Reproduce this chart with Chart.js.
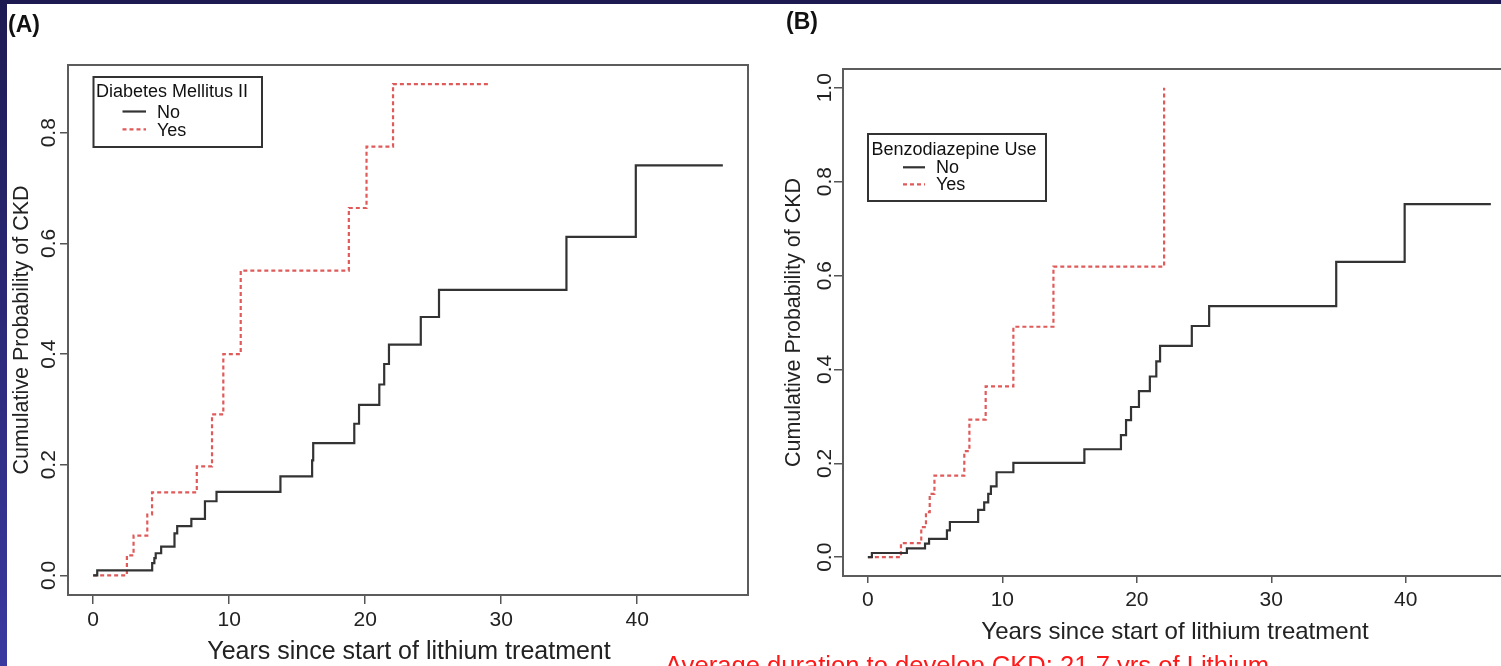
<!DOCTYPE html>
<html>
<head>
<meta charset="utf-8">
<script src="https://cdn.jsdelivr.net/npm/chart.js@4.4.1/dist/chart.umd.min.js"></script>
<style>
  html, body { margin: 0; padding: 0; width: 1501px; height: 666px; overflow: hidden; background: #fff; }
  #chartA { position: absolute; left: 0; top: 0; }
  #chartB { position: absolute; left: 755px; top: 0; }
  #slideTop { position: absolute; left: 0; top: 0; width: 1501px; height: 4px; background: #1d1a52; z-index: 2; }
  #slideLeft { position: absolute; left: 0; top: 0; width: 7px; height: 666px; background: linear-gradient(#1d1a52, #3a39a0); z-index: 2; }
  #note { position: absolute; left: 665px; top: 652px; font: 25.6px/26px 'Liberation Sans', Arial, sans-serif; color: #ff1a1a; white-space: nowrap; z-index: 2; }
</style>
</head>
<body>
<div id="slideTop"></div>
<div id="slideLeft"></div>
<canvas id="chartA" width="755" height="666"></canvas>
<canvas id="chartB" width="770" height="666"></canvas>
<div id="note">Average duration to develop CKD: 21.7 yrs of Lithium</div>
<script>
const FONT = "'Liberation Sans', Arial, Helvetica, sans-serif";

// cumulative incidence step points: years since start, probability
const dmNoYears  = [0, 0.3, 4.34, 4.5, 4.6, 5.0, 5.98, 6.18, 7.22, 8.22, 9.07, 13.77, 16.1, 16.18, 19.2, 19.55, 21.04, 21.4, 21.75, 24.09, 25.43, 34.8, 39.9, 46.3];
const dmNoProb   = [0, 0.009, 0.022, 0.031, 0.040, 0.052, 0.076, 0.089, 0.102, 0.134, 0.151, 0.179, 0.208, 0.239, 0.274, 0.308, 0.345, 0.382, 0.417, 0.467, 0.516, 0.612, 0.741, 0.741];
const dmYesYears = [0, 2.48, 2.97, 3.98, 4.33, 7.62, 8.74, 9.57, 10.85, 18.8, 20.1, 22.05, 29.2];
const dmYesProb  = [0, 0.036, 0.072, 0.110, 0.150, 0.197, 0.291, 0.400, 0.551, 0.664, 0.775, 0.888, 0.888];

const bzNoYears  = [0, 0.3, 2.9, 4.25, 4.55, 5.88, 6.1, 8.2, 8.65, 8.95, 9.15, 9.57, 10.82, 16.1, 18.82, 19.2, 19.57, 20.16, 20.97, 21.45, 21.73, 24.09, 25.38, 34.83, 39.92, 46.33];
const bzNoProb   = [0, 0.009, 0.019, 0.029, 0.039, 0.057, 0.075, 0.101, 0.117, 0.135, 0.151, 0.181, 0.201, 0.230, 0.260, 0.292, 0.320, 0.354, 0.385, 0.417, 0.450, 0.4925, 0.535, 0.629, 0.752, 0.752];
const bzYesYears = [0, 2.46, 3.97, 4.32, 4.6, 4.95, 7.17, 7.55, 8.76, 10.82, 13.8, 22.03];
const bzYesProb  = [0, 0.030, 0.064, 0.096, 0.135, 0.174, 0.226, 0.293, 0.364, 0.491, 0.619, 1.0];

const xTickValues = [0, 10, 20, 30, 40];
const yTicksA = [0, 0.2, 0.4, 0.6, 0.8];
const yTicksB = [0, 0.2, 0.4, 0.6, 0.8, 1.0];
const groupLabels = ['No', 'Yes'];

const LINE_NO = '#333333';
const LINE_YES = '#e05a5a';
const DASH_YES = [4, 3];

function points(xs, ys) {
  return xs.map((x, i) => ({ x: x, y: ys[i] }));
}

// frame, rotated y labels, axis titles and the boxed legend, R style
const panelDecor = {
  id: 'panelDecor',
  afterDraw(chart, args, o) {
    const ctx = chart.ctx;
    const a = chart.chartArea;
    const ys = chart.scales.y;
    ctx.save();

    ctx.strokeStyle = '#5c5c5c';
    ctx.lineWidth = 2;
    ctx.strokeRect(a.left, a.top, a.right - a.left, a.bottom - a.top);

    ctx.fillStyle = '#111';
    ctx.textAlign = 'left';
    ctx.textBaseline = 'alphabetic';
    ctx.font = 'bold 23px ' + FONT;
    ctx.fillText(o.letter, o.letterX, o.letterY);

    ctx.fillStyle = '#222';
    ctx.textAlign = 'center';
    ctx.font = '21px ' + FONT;
    ys.ticks.forEach(t => {
      const py = ys.getPixelForValue(t.value);
      ctx.save();
      ctx.translate(o.yLabelX, py);
      ctx.rotate(-Math.PI / 2);
      ctx.fillText(t.value.toFixed(1), 0, 0);
      ctx.restore();
    });

    ctx.font = o.yTitleSize + 'px ' + FONT;
    ctx.save();
    ctx.translate(o.yTitleX, (a.top + a.bottom) / 2);
    ctx.rotate(-Math.PI / 2);
    ctx.fillText('Cumulative Probability of CKD', 0, 0);
    ctx.restore();

    ctx.font = o.xTitleSize + 'px ' + FONT;
    ctx.fillText('Years since start of lithium treatment', o.xTitleX, o.xTitleY);

    const lg = o.legend;
    ctx.strokeStyle = '#333';
    ctx.lineWidth = 2;
    ctx.strokeRect(lg.x, lg.y, lg.w, lg.h);
    ctx.textAlign = 'left';
    ctx.fillStyle = '#111';
    ctx.font = '18px ' + FONT;
    ctx.fillText(lg.title, lg.titleX, lg.titleY);
    chart.data.datasets.forEach((ds, i) => {
      const row = lg.rows[i];
      ctx.strokeStyle = ds.borderColor;
      ctx.lineWidth = 2.2;
      ctx.setLineDash(ds.borderDash || []);
      ctx.beginPath();
      ctx.moveTo(lg.lineX0, row.lineY);
      ctx.lineTo(lg.lineX1, row.lineY);
      ctx.stroke();
      ctx.setLineDash([]);
      ctx.fillText(ds.label, lg.textX, row.baseline);
    });

    ctx.restore();
  }
};

function makePanel(id, cfg) {
  return new Chart(document.getElementById(id), {
    type: 'line',
    data: {
      datasets: [
        { label: groupLabels[0], data: points(cfg.noX, cfg.noY), borderColor: LINE_NO,
          borderWidth: 2.2, stepped: true, pointRadius: 0, fill: false },
        { label: groupLabels[1], data: points(cfg.yesX, cfg.yesY), borderColor: LINE_YES,
          borderWidth: 2.2, borderDash: DASH_YES, stepped: true, pointRadius: 0, fill: false }
      ]
    },
    options: {
      responsive: false,
      animation: false,
      devicePixelRatio: 1,
      layout: { padding: cfg.padding },
      plugins: {
        legend: { display: false },
        tooltip: { enabled: false },
        panelDecor: cfg.decor
      },
      scales: {
        x: {
          type: 'linear',
          min: cfg.xMin,
          max: cfg.xMax,
          afterBuildTicks: s => { s.ticks = xTickValues.map(v => ({ value: v })); },
          afterFit: s => { s.height = cfg.xAxisHeight; },
          border: { display: false },
          grid: { display: true, drawOnChartArea: false, drawTicks: true,
                  tickLength: cfg.xTickLen, color: '#555', lineWidth: 1.5 },
          ticks: { font: { family: FONT, size: 21 }, color: '#222', padding: cfg.xTickPad,
                   maxRotation: 0, autoSkip: false }
        },
        y: {
          type: 'linear',
          min: cfg.yMin,
          max: cfg.yMax,
          afterBuildTicks: s => { s.ticks = cfg.yTicks.map(v => ({ value: v })); },
          afterFit: s => { s.width = cfg.yAxisWidth; },
          border: { display: false },
          grid: { display: true, drawOnChartArea: false, drawTicks: true,
                  tickLength: cfg.yTickLen, color: '#555', lineWidth: 1.5 },
          ticks: { display: false }
        }
      }
    },
    plugins: [panelDecor]
  });
}

makePanel('chartA', {
  noX: dmNoYears, noY: dmNoProb, yesX: dmYesYears, yesY: dmYesProb,
  xMin: -1.85, xMax: 48.15, yMin: -0.0355, yMax: 0.9225, yTicks: yTicksA,
  padding: { left: 0, right: 7, top: 65, bottom: 0 },
  yAxisWidth: 68, xAxisHeight: 71, xTickLen: 9, xTickPad: 4, yTickLen: 8,
  decor: {
    letter: '(A)', letterX: 8, letterY: 32,
    yLabelX: 55, yTitleX: 28, yTitleSize: 21.5,
    xTitleX: 409, xTitleY: 659, xTitleSize: 25,
    legend: {
      x: 93.5, y: 77, w: 168.5, h: 70,
      title: 'Diabetes Mellitus II', titleX: 96, titleY: 97,
      lineX0: 122.5, lineX1: 146, textX: 157,
      rows: [{ lineY: 111.5, baseline: 118 }, { lineY: 129.3, baseline: 136 }]
    }
  }
});

makePanel('chartB', {
  noX: bzNoYears, noY: bzNoProb, yesX: bzYesYears, yesY: bzYesProb,
  xMin: -1.85, xMax: 48.2, yMin: -0.04, yMax: 1.04, yTicks: yTicksB,
  padding: { left: 0, right: 9, top: 69, bottom: 0 },
  yAxisWidth: 88, xAxisHeight: 90, xTickLen: 7, xTickPad: 5, yTickLen: 9,
  decor: {
    letter: '(B)', letterX: 31, letterY: 29,
    yLabelX: 76, yTitleX: 45, yTitleSize: 21.5,
    xTitleX: 420, xTitleY: 639, xTitleSize: 24,
    legend: {
      x: 113, y: 134, w: 178, h: 67,
      title: 'Benzodiazepine Use', titleX: 116.5, titleY: 155,
      lineX0: 148, lineX1: 170, textX: 181,
      rows: [{ lineY: 167.3, baseline: 173 }, { lineY: 184.3, baseline: 190 }]
    }
  }
});
</script>
</body>
</html>
